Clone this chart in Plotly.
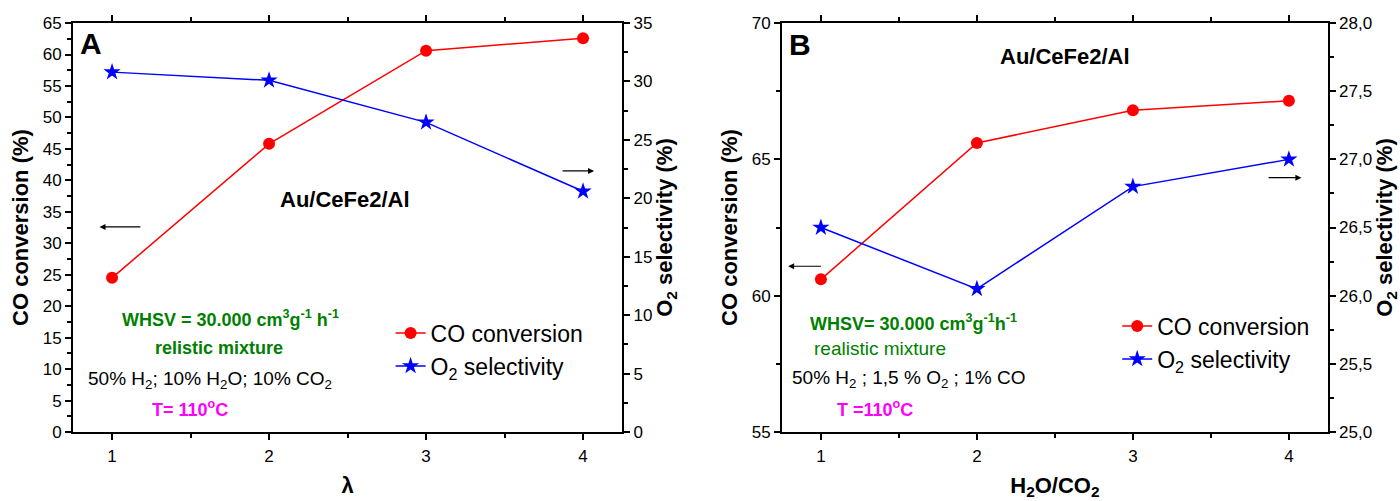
import plotly.graph_objects as go
from plotly.subplots import make_subplots

# ---- data ----
lam = [1, 2, 3, 4]
co_conv_A = [24.5, 45.8, 60.6, 62.6]
o2_sel_A = [30.8, 30.1, 26.5, 20.6]

h2o_co2 = [1, 2, 3, 4]
co_conv_B = [60.6, 65.6, 66.8, 67.15]
o2_sel_B = [26.5, 26.05, 26.8, 27.0]

RED = "#FF0000"
BLUE = "#0000FF"
GREEN = "#008000"
MAG = "#FF00FF"
FONT = "Arial, Liberation Sans, sans-serif"

fig = make_subplots(rows=1, cols=2, specs=[[{"secondary_y": True}, {"secondary_y": True}]])

def add_panel(col, x, co, o2, legend):
    fig.add_trace(go.Scatter(x=x, y=co, mode="lines+markers", name="CO conversion",
                             line=dict(color=RED, width=1.5),
                             marker=dict(symbol="circle", size=12, color=RED),
                             legend=legend, legendgroup=legend + "a"),
                  row=1, col=col, secondary_y=False)
    fig.add_trace(go.Scatter(x=x, y=o2, mode="lines+markers", name="O<sub>2</sub> selectivity",
                             line=dict(color=BLUE, width=1.5),
                             marker=dict(symbol="star", size=13, color=BLUE),
                             legend=legend, legendgroup=legend + "b"),
                  row=1, col=col, secondary_y=True)

add_panel(1, lam, co_conv_A, o2_sel_A, "legend")
add_panel(2, h2o_co2, co_conv_B, o2_sel_B, "legend2")

axis_common = dict(showline=True, linecolor="black", linewidth=1.5, ticks="outside",
                   tickcolor="black", ticklen=6, tickwidth=1.5, showgrid=False, zeroline=False,
                   automargin=False,
                   tickfont=dict(family=FONT, size=17, color="black"))
title_font = dict(family=FONT, size=22, color="black")
minor_y = lambda d: dict(dtick=d, ticks="outside", ticklen=4, tickcolor="black", tickwidth=1.5)

# x axes
for xa, dom, title in [("xaxis", [0.052, 0.4445], "<b>λ</b>"),
                       ("xaxis2", [0.5585, 0.9485], "<b>H<sub>2</sub>O/CO<sub>2</sub></b>")]:
    fig.layout[xa].update(domain=dom, range=[0.75, 4.25], dtick=1, tick0=1, mirror="ticks",
                          ticklabelstandoff=2,
                          minor=dict(dtick=0.5, ticks="outside", ticklen=4, tickcolor="black", tickwidth=1.5),
                          title=dict(text=title, font=title_font, standoff=12),
                          **axis_common)

ydom = [0.1377, 0.954]
fig.layout.yaxis.update(domain=ydom, range=[0, 65], dtick=5, minor=minor_y(2.5),
                        title=dict(text="<b>CO conversion (%)</b>", font=title_font, standoff=8),
                        **axis_common)
fig.layout.yaxis2.update(domain=ydom, range=[0, 35], dtick=5, minor=minor_y(2.5),
                         title=dict(text="<b>O<sub>2</sub> selectivity (%)</b>", font=title_font, standoff=3),
                         **axis_common)
fig.layout.yaxis3.update(domain=ydom, range=[55, 70], dtick=5, minor=minor_y(2.5),
                         title=dict(text="<b>CO conversion (%)</b>", font=title_font, standoff=8),
                         **axis_common)
fig.layout.yaxis4.update(domain=ydom, range=[25, 28], dtick=0.5, tickformat=".1f", minor=minor_y(0.25),
                         title=dict(text="<b>O<sub>2</sub> selectivity (%)</b>", font=title_font, standoff=0),
                         **axis_common)

def txt(xref, yref, x, y, text, size, color="black", xanchor="center"):
    fig.add_annotation(xref=xref, yref=yref, x=x, y=y, text=text, showarrow=False,
                       xanchor=xanchor, yanchor="middle",
                       font=dict(family=FONT, size=size, color=color))

def arrow(xref, yref, x_tip, x_tail, y):
    fig.add_annotation(xref=xref, yref=yref, axref=xref, ayref=yref, x=x_tip, y=y, ax=x_tail, ay=y,
                       text="", showarrow=True, arrowhead=2, arrowsize=1, arrowwidth=1.2,
                       arrowcolor="black")

# panel A texts
txt("x", "y", 0.78, 61.8, "<b>A</b>", 30, xanchor="left")
txt("x", "y", 2.485, 36.9, "<b>Au/CeFe2/Al</b>", 22)
txt("x", "y", 1.752, 18.0, "<b>WHSV = 30.000 cm<sup>3</sup>g<sup>-1</sup> h<sup>-1</sup></b>", 18, GREEN)
txt("x", "y", 1.68, 13.4, "<b>relistic mixture</b>", 18, GREEN)
txt("x", "y", 1.625, 8.26, "50% H<sub>2</sub>; 10% H<sub>2</sub>O; 10% CO<sub>2</sub>", 19)
txt("x", "y", 1.498, 3.66, "<b>T= 110<sup>o</sup>C</b>", 18, MAG)
arrow("x", "y", 0.92, 1.19, 32.6)
arrow("x", "y", 4.07, 3.86, 41.5)

# panel B texts
txt("x2", "y3", 0.78, 69.23, "<b>B</b>", 30, xanchor="left")
txt("x2", "y3", 2.564, 68.79, "<b>Au/CeFe2/Al</b>", 22)
txt("x2", "y3", 1.596, 59.02, "<b>WHSV= 30.000 cm<sup>3</sup>g<sup>-1</sup>h<sup>-1</sup></b>", 18, GREEN)
txt("x2", "y3", 1.378, 58.06, "realistic mixture", 19, GREEN)
txt("x2", "y3", 1.564, 56.95, "50% H<sub>2</sub> ; 1,5 % O<sub>2</sub> ; 1% CO", 19)
txt("x2", "y3", 1.346, 55.88, "<b>T =110<sup>o</sup>C</b>", 18, MAG)
arrow("x2", "y3", 0.79, 1.01, 61.08)
arrow("x2", "y3", 4.08, 3.86, 64.33)

legend_common = dict(font=dict(family=FONT, size=23, color="black"), bgcolor="rgba(0,0,0,0)",
                     borderwidth=0, xanchor="left", yanchor="top", tracegroupgap=0,
                     traceorder="grouped", itemwidth=30)
fig.update_layout(
    legend=dict(x=0.279, y=0.378, **legend_common),
    legend2=dict(x=0.798, y=0.392, **legend_common),
    width=1400, height=501, margin=dict(l=0, r=0, t=0, b=0, autoexpand=False),
    plot_bgcolor="white", paper_bgcolor="white", separators=",.",
    font=dict(family=FONT, color="black"),
)

fig.write_html("out.html")
